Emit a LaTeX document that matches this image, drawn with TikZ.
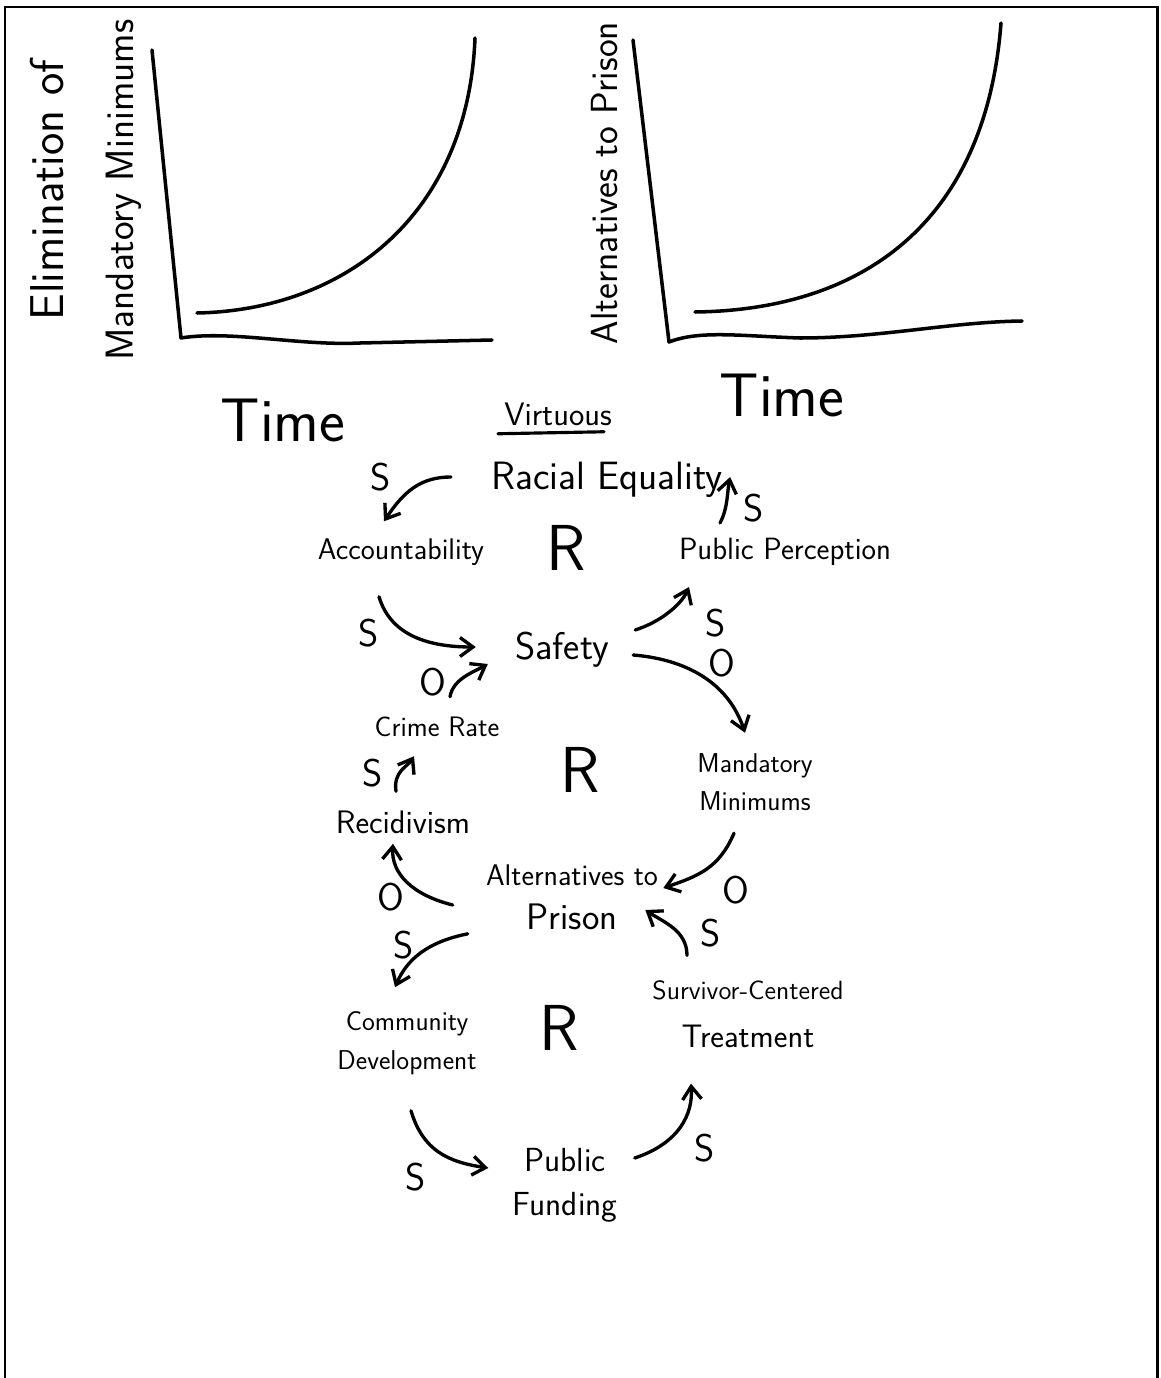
\documentclass[tikz,border=0pt]{standalone}
\usepackage{fontspec}
\usepackage{tikz}
\usetikzlibrary{arrows.meta,positioning,calc}
\tikzset{
  varname/.style={font=\fontsize{15.5}{22}\selectfont\sffamily,align=center,inner sep=0pt},
  signmark/.style={font=\fontsize{22}{24}\selectfont\sffamily,inner sep=0pt},
  loopmark/.style={font=\fontsize{37}{40}\selectfont\sffamily,inner sep=0pt},
  timelabel/.style={font=\fontsize{35}{40}\selectfont\sffamily,inner sep=0pt},
  axislabel/.style={font=\fontsize{21}{40}\selectfont\sffamily,align=center,rotate=90,inner sep=0pt},
  penline/.style={line width=2pt,line cap=round,line join=round},
  causalarrow/.style={line width=1.9pt,line cap=round,-{Straight Barb[length=2.6mm,width=3.8mm]}}
}
\begin{document}
\begin{tikzpicture}[x=0.02cm,y=-0.02cm]
  \useasboundingbox (0,0) rectangle (1160,1378);
  \draw[line width=1.7pt] (5,1378) -- (5,7) -- (1157,7) -- (1157,1378);
  % behaviour over time graphs
  \draw[penline] (152,50) -- (181,338) .. controls (230,330) and (300,346) .. (360,343) -- (492,340);
  \draw[penline] (197,313) .. controls (345,310) and (468,215) .. (475,38);
  \node[axislabel] (elimlabel) at (86,190)
    {\fontsize{27}{42}\selectfont Elimination of\\\fontsize{22.5}{42}\selectfont Mandatory Minimums};
  \node[timelabel] (timeleft) at (283,420) {Time};
  \draw[penline] (633,40) -- (669,342) .. controls (700,330) and (740,336) .. (800,338)
    .. controls (880,338) and (950,322) .. (1022,321);
  \draw[penline] (695,312) .. controls (855,310) and (985,230) .. (1001,23);
  \node[axislabel,font=\fontsize{21.5}{40}\selectfont\sffamily] (altlabel) at (605,183) {Alternatives to Prison};
  \node[timelabel] (timeright) at (782,395) {Time};
  % causal loop diagram
  \node[varname,font=\fontsize{18.5}{22}\selectfont\sffamily] (virt) at (558,414) {Virtuous};
  \draw[line width=1.8pt,line cap=round] ([shift={(-6,8)}]virt.south west) -- ([shift={(-8,6)}]virt.south east);
  \node[varname,font=\fontsize{22.5}{24}\selectfont\sffamily] (racial) at (607,480) {Racial Equality};
  \node[varname,font=\fontsize{17}{22}\selectfont\sffamily] (acct) at (401,552) {Accountability};
  \node[loopmark] (loopA) at (566,548) {R};
  \node[varname,font=\fontsize{17.5}{22}\selectfont\sffamily] (pubper) at (785,552) {Public Perception};
  \node[varname,font=\fontsize{22}{24}\selectfont\sffamily] (safety) at (562,650) {Safety};
  \node[varname,font=\fontsize{16}{22}\selectfont\sffamily] (crime) at (437,727) {Crime Rate};
  \node[loopmark] (loopB) at (580,770) {R};
  \node[varname,font=\fontsize{15.5}{22}\selectfont\sffamily] (mandmin) at (755,782) {Mandatory\\Minimums};
  \node[varname,font=\fontsize{18.5}{22}\selectfont\sffamily] (recid) at (403,822) {Recidivism};
  \node[varname,font=\fontsize{17}{25}\selectfont\sffamily] (altprison) at (572,897)
    {Alternatives to\\\fontsize{21}{25}\selectfont Prison};
  \node[varname,font=\fontsize{15.5}{22}\selectfont\sffamily] (commdev) at (407,1043) {Community\\Development};
  \node[loopmark] (loopC) at (559,1028) {R};
  \node[varname,font=\fontsize{15}{27}\selectfont\sffamily] (survivor) at (748,1014)
    {Survivor-Centered\\\fontsize{18.5}{27}\selectfont Treatment};
  \node[varname,font=\fontsize{19}{25}\selectfont\sffamily] (funding) at (565,1185) {Public\\Funding};
  % links
  \draw[causalarrow] ([shift={(-40,-3)}]racial.west) .. controls +(-30,0) and +(20,-30) .. ([shift={(-17,-17)}]acct.north);
  \draw[causalarrow] ([shift={(-65,-15)}]pubper.north) .. controls +(8,-15) and +(-3,15) .. ([shift={(7,-3)}]racial.east);
  \draw[causalarrow] ([shift={(-22,31)}]acct.south) .. controls +(12,40) and +(-45,0) .. ([shift={(-39,-3)}]safety.west);
  \draw[causalarrow] ([shift={(26,-20)}]safety.east) .. controls +(25,-8) and +(-8,18) .. ([shift={(-96,21)}]pubper.south);
  \draw[causalarrow] ([shift={(24,5)}]safety.east) .. controls +(60,5) and +(-15,-45) .. ([shift={(-10,-20)}]mandmin.north);
  \draw[causalarrow] ([shift={(13,-20)}]crime.north) .. controls +(3,-18) and +(-14,8) .. ([shift={(-27,14)}]safety.west);
  \draw[causalarrow] ([shift={(-7,-19)}]recid.north) .. controls +(-3,-20) and +(-6,10) .. ([shift={(-23,19)}]crime.south);
  \draw[causalarrow] ([shift={(-21,22)}]mandmin.south) .. controls +(-15,35) and +(35,-12) .. ([shift={(5,-9)}]altprison.east);
  \draw[causalarrow] ([shift={(-33,8)}]altprison.west) .. controls +(-40,-10) and +(-2,30) .. ([shift={(-10,10)}]recid.south);
  \draw[causalarrow] ([shift={(-61,-25)}]survivor.north) .. controls +(0,-25) and +(18,12) .. ([shift={(-13,13)}]altprison.east);
  \draw[causalarrow] ([shift={(-18,4)}]altprison.south west) .. controls +(-40,8) and +(12,-28) .. ([shift={(-12,-24)}]commdev.north);
  \draw[causalarrow] ([shift={(4,36)}]commdev.south) .. controls +(12,40) and +(-40,-6) .. ([shift={(-24,-17)}]funding.west);
  \draw[causalarrow] ([shift={(17,-27)}]funding.east) .. controls +(45,-15) and +(2,30) .. ([shift={(-57,36)}]survivor.south);
  % polarities
  \node[signmark] (sgnA) at (381,477) {S};
  \node[signmark] (sgnB) at (754,508) {S};
  \node[signmark] (sgnC) at (369,633) {S};
  \node[signmark] (sgnD) at (716,623) {S};
  \node[signmark] (sgnE) at (722,663) {O};
  \node[signmark] (sgnF) at (433,682) {O};
  \node[signmark] (sgnG) at (373,773) {S};
  \node[signmark] (sgnH) at (736,890) {O};
  \node[signmark] (sgnI) at (391,897) {O};
  \node[signmark] (sgnJ) at (711,933) {S};
  \node[signmark] (sgnK) at (404,945) {S};
  \node[signmark] (sgnL) at (416,1177) {S};
  \node[signmark] (sgnM) at (705,1148) {S};
\end{tikzpicture}
\end{document}
